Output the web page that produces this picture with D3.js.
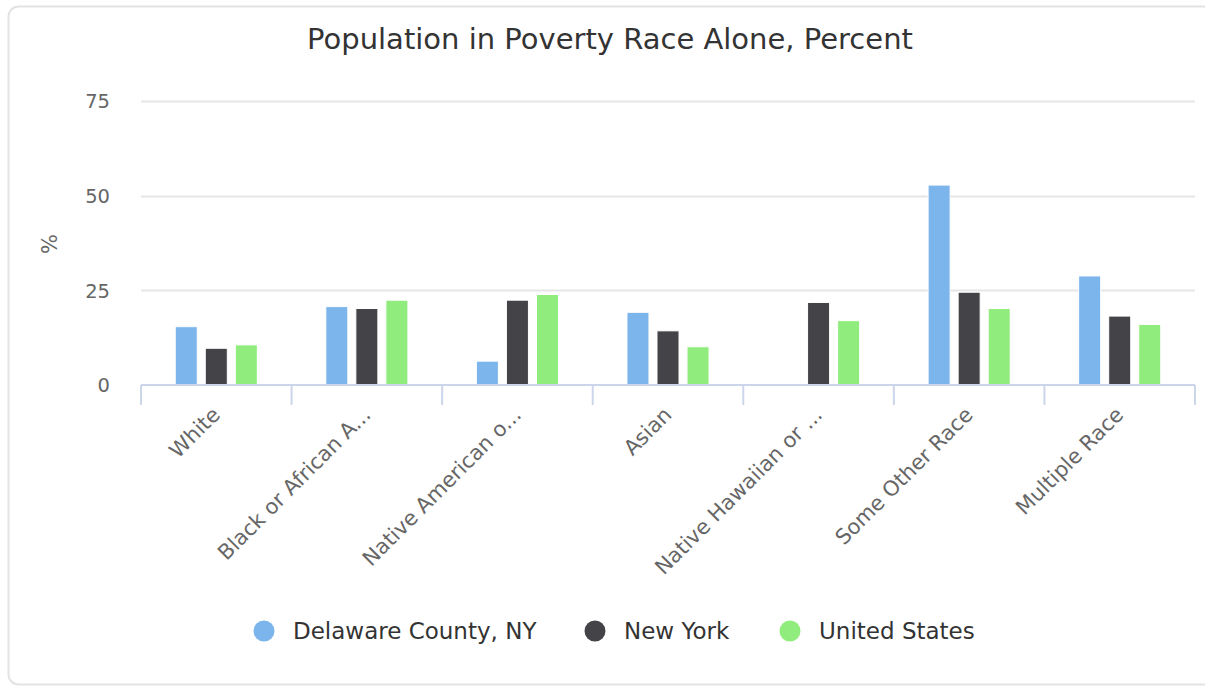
<!DOCTYPE html>
<html>
<head>
<meta charset="utf-8">
<script src="https://cdn.jsdelivr.net/npm/d3@7"></script>
<style>
  html, body { margin: 0; padding: 0; background: #fff; }
  svg { display: block; font-family: "DejaVu Sans", "Open Sans", sans-serif; }
</style>
</head>
<body>
<svg id="chart" width="1205" height="687"></svg>
<script>
// Poverty rate by race, percent
const categories = ["White", "Black or African A...", "Native American o...", "Asian",
                    "Native Hawaiian or ...", "Some Other Race", "Multiple Race"];
const seriesNames = ["Delaware County, NY", "New York", "United States"];
const delawareValues = [15.4, 20.7, 6.3, 19.2, null, 52.8, 28.8];
const newYorkValues  = [9.7, 20.2, 22.4, 14.3, 21.8, 24.5, 18.2];
const usValues       = [10.6, 22.4, 23.9, 10.1, 17.0, 20.2, 16.0];
const yTicks = [0, 25, 50, 75];
const seriesColors = ["#7cb5ec", "#434348", "#90ed7d"];

const seriesValues = [delawareValues, newYorkValues, usValues];

const svg = d3.select("#chart");

// card frame
svg.append("rect")
  .attr("x", 8.5).attr("y", 6.5)
  .attr("width", 1230).attr("height", 678)
  .attr("rx", 10).attr("ry", 10)
  .attr("fill", "#fff")
  .attr("stroke", "#e3e3e3").attr("stroke-width", 2);

const plot = { left: 141, right: 1195, top: 101, bottom: 385 };

const x = d3.scaleBand()
  .domain(categories)
  .range([plot.left, plot.right])
  .paddingInner(0).paddingOuter(0);

const x1 = d3.scaleBand()
  .domain(seriesNames)
  .range([0, x.bandwidth()])
  .paddingInner(0.267)
  .paddingOuter(1.14);

const y = d3.scaleLinear().domain([0, 75]).range([plot.bottom, plot.top]);

// title
svg.append("text")
  .attr("x", 610).attr("y", 49)
  .attr("text-anchor", "middle")
  .attr("font-size", 29)
  .attr("fill", "#333333")
  .text("Population in Poverty Race Alone, Percent");

// gridlines
svg.append("g")
  .selectAll("line")
  .data(yTicks.filter(t => t !== 0))
  .join("line")
  .attr("x1", plot.left).attr("x2", plot.right)
  .attr("y1", d => Math.round(y(d)) + 0.5).attr("y2", d => Math.round(y(d)) + 0.5)
  .attr("stroke", "#e6e6e6").attr("stroke-width", 2);

// y axis labels
const yAxis = d3.axisLeft(y).tickValues(yTicks).tickSize(0).tickPadding(0);
const gy = svg.append("g").attr("transform", `translate(${plot.left - 31},0)`).call(yAxis);
gy.select(".domain").remove();
gy.selectAll("text")
  .attr("font-size", 19.5)
  .attr("font-family", "'DejaVu Sans', sans-serif")
  .attr("fill", "#666666")
  .attr("dy", "0.35em");

// y axis title
svg.append("text")
  .attr("transform", "translate(57,244) rotate(-90)")
  .attr("text-anchor", "middle")
  .attr("font-size", 21)
  .attr("fill", "#666666")
  .text("%");

// bars
const groups = svg.append("g")
  .selectAll("g")
  .data(categories)
  .join("g")
  .attr("transform", d => `translate(${x(d)},0)`);

groups.selectAll("rect")
  .data((d, i) => seriesNames.map((s, j) => ({ s, v: seriesValues[j][i], c: seriesColors[j] })))
  .join("rect")
  .filter(d => d.v != null)
  .attr("x", d => x1(d.s))
  .attr("width", x1.bandwidth())
  .attr("y", d => y(d.v))
  .attr("height", d => y(0) - y(d.v))
  .attr("fill", d => d.c)
  .attr("stroke", "#ffffff")
  .attr("stroke-width", 1);

// x axis
const xAxis = d3.axisBottom(x).tickSize(0).tickFormat("");
const gx = svg.append("g").attr("transform", `translate(0,${plot.bottom})`).call(xAxis);
gx.select(".domain").attr("stroke", "#ccd6eb").attr("stroke-width", 2).attr("d", `M${plot.left},0H${plot.right}`);
gx.selectAll(".tick").remove();

// tick marks on category boundaries
const boundaries = categories.map(c => x(c)).concat([plot.right]);
svg.append("g")
  .selectAll("line")
  .data(boundaries)
  .join("line")
  .attr("x1", d => d).attr("x2", d => d)
  .attr("y1", plot.bottom).attr("y2", plot.bottom + 20)
  .attr("stroke", "#ccd6eb").attr("stroke-width", 2);

// rotated category labels
svg.append("g")
  .selectAll("text")
  .data(categories)
  .join("text")
  .attr("transform", d => `translate(${x(d) + x.bandwidth() / 2 + 5},${plot.bottom + 31}) rotate(-45)`)
  .attr("text-anchor", "end")
  .attr("font-size", 21)
  .attr("fill", "#666666")
  .text(d => d);

// legend
const legendItems = [
  { name: seriesNames[0], color: seriesColors[0], cx: 264 },
  { name: seriesNames[1], color: seriesColors[1], cx: 595 },
  { name: seriesNames[2], color: seriesColors[2], cx: 790 }
];
const legend = svg.append("g");
legend.selectAll("circle")
  .data(legendItems)
  .join("circle")
  .attr("cx", d => d.cx).attr("cy", 631)
  .attr("r", 10.5)
  .attr("fill", d => d.color);
legend.selectAll("text")
  .data(legendItems)
  .join("text")
  .attr("x", d => d.cx + 29).attr("y", 631)
  .attr("dy", "0.35em")
  .attr("font-size", 23)
  .attr("fill", "#333333")
  .text(d => d.name);
</script>
</body>
</html>
